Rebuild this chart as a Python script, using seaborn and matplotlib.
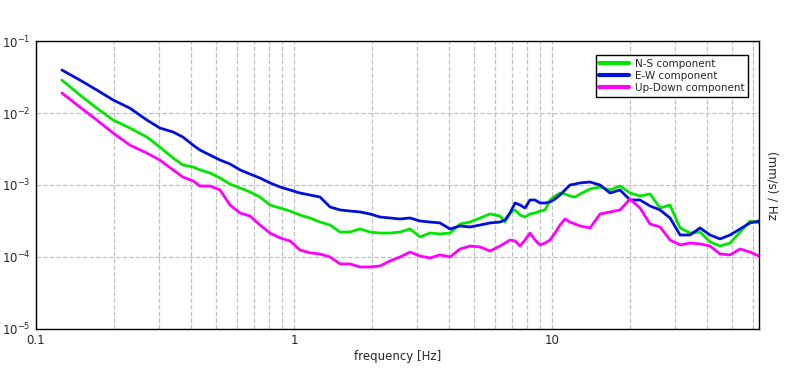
import numpy as np
import pandas as pd
import matplotlib
matplotlib.use("Agg")
import matplotlib.pyplot as plt
import seaborn as sns
from matplotlib.ticker import LogLocator, NullFormatter

# ========== DADOS ==========
freq = [0.126, 0.148, 0.172, 0.199, 0.231, 0.269, 0.302, 0.340, 0.371, 0.406,
        0.432, 0.472, 0.517, 0.565, 0.618, 0.675, 0.738, 0.807, 0.883, 0.965,
        1.055, 1.153, 1.261, 1.379, 1.508, 1.648, 1.802, 1.970, 2.154, 2.356,
        2.575, 2.816, 3.079, 3.366, 3.680, 4.024, 4.399, 4.810, 5.260, 5.750,
        6.287, 6.573, 6.874, 7.188, 7.516, 7.857, 8.216, 8.592, 8.984, 9.395,
        9.82, 10.27, 10.74, 11.23, 11.74, 12.28, 12.84, 14.04, 15.35, 16.78,
        18.35, 20.06, 21.93, 23.98, 26.22, 28.67, 31.34, 34.27, 37.46, 40.96,
        44.78, 48.97, 53.54, 58.53, 63.4]

ns_comp = [2.87e-2, 1.78e-2, 1.17e-2, 8.0e-3, 6.19e-3, 4.64e-3, 3.37e-3, 2.37e-3, 1.90e-3, 1.78e-3,
           1.62e-3, 1.47e-3, 1.25e-3, 1.03e-3, 9.09e-4, 8.0e-4, 6.81e-4, 5.27e-4, 4.79e-4, 4.35e-4,
           3.83e-4, 3.48e-4, 3.06e-4, 2.78e-4, 2.22e-4, 2.22e-4, 2.45e-4, 2.22e-4, 2.15e-4, 2.15e-4,
           2.22e-4, 2.45e-4, 1.90e-4, 2.15e-4, 2.09e-4, 2.15e-4, 2.87e-4, 3.06e-4, 3.48e-4, 3.96e-4,
           3.71e-4, 3.06e-4, 4.08e-4, 4.50e-4, 3.83e-4, 3.59e-4, 3.96e-4, 4.08e-4, 4.35e-4, 4.50e-4,
           6.19e-4, 7.03e-4, 7.74e-4, 7.50e-4, 7.03e-4, 6.81e-4, 7.50e-4, 8.80e-4, 9.38e-4, 8.53e-4,
           9.68e-4, 7.74e-4, 7.03e-4, 7.50e-4, 4.79e-4, 5.27e-4, 2.53e-4, 2.15e-4, 2.22e-4, 1.62e-4,
           1.42e-4, 1.56e-4, 2.22e-4, 3.16e-4, 2.97e-4]

ew_comp = [3.96e-2, 2.87e-2, 2.09e-2, 1.52e-2, 1.17e-2, 8.0e-3, 6.19e-3, 5.45e-3, 4.64e-3, 3.59e-3,
           3.06e-3, 2.61e-3, 2.22e-3, 1.96e-3, 1.62e-3, 1.42e-3, 1.25e-3, 1.07e-3, 9.38e-4, 8.53e-4,
           7.74e-4, 7.26e-4, 6.81e-4, 4.95e-4, 4.50e-4, 4.35e-4, 4.22e-4, 3.96e-4, 3.59e-4, 3.48e-4,
           3.37e-4, 3.48e-4, 3.16e-4, 3.06e-4, 2.97e-4, 2.45e-4, 2.70e-4, 2.61e-4, 2.78e-4, 2.97e-4,
           3.06e-4, 3.26e-4, 4.08e-4, 5.62e-4, 5.27e-4, 4.79e-4, 6.19e-4, 6.19e-4, 5.62e-4, 5.62e-4,
           5.81e-4, 6.39e-4, 7.26e-4, 8.53e-4, 1.00e-3, 1.03e-3, 1.07e-3, 1.10e-3, 1.00e-3, 7.74e-4,
           8.53e-4, 6.19e-4, 6.19e-4, 5.11e-4, 4.50e-4, 3.48e-4, 2.02e-4, 2.02e-4, 2.53e-4, 2.02e-4,
           1.78e-4, 2.02e-4, 2.45e-4, 2.97e-4, 3.16e-4]

ud_comp = [1.90e-2, 1.21e-2, 8.0e-3, 5.27e-3, 3.59e-3, 2.78e-3, 2.22e-3, 1.62e-3, 1.29e-3, 1.14e-3,
           9.68e-4, 9.68e-4, 8.53e-4, 5.27e-4, 4.08e-4, 3.71e-4, 2.78e-4, 2.15e-4, 1.84e-4, 1.67e-4,
           1.25e-4, 1.14e-4, 1.10e-4, 1.00e-4, 8.0e-5, 8.0e-5, 7.26e-5, 7.26e-5, 7.50e-5, 8.80e-5,
           1.00e-4, 1.17e-4, 1.03e-4, 9.68e-5, 1.07e-4, 1.00e-4, 1.29e-4, 1.42e-4, 1.38e-4, 1.21e-4,
           1.42e-4, 1.56e-4, 1.72e-4, 1.67e-4, 1.42e-4, 1.72e-4, 2.15e-4, 1.72e-4, 1.47e-4, 1.56e-4,
           1.72e-4, 2.15e-4, 2.78e-4, 3.37e-4, 3.06e-4, 2.87e-4, 2.70e-4, 2.53e-4, 3.96e-4, 4.22e-4,
           4.50e-4, 6.39e-4, 4.79e-4, 2.87e-4, 2.61e-4, 1.72e-4, 1.47e-4, 1.56e-4, 1.52e-4, 1.42e-4,
           1.10e-4, 1.07e-4, 1.29e-4, 1.17e-4, 1.03e-4]

nomes = ['N-S component', 'E-W component', 'Up-Down component']
cores = {'N-S component': '#00e600', 'E-W component': '#0010d8', 'Up-Down component': '#ff00ff'}

# ========== MONTAR DATAFRAME ==========
df = pd.concat([
    pd.DataFrame({'freq': freq, 'psd': ns_comp, 'comp': nomes[0]}),
    pd.DataFrame({'freq': freq, 'psd': ew_comp, 'comp': nomes[1]}),
    pd.DataFrame({'freq': freq, 'psd': ud_comp, 'comp': nomes[2]}),
], ignore_index=True)

# ========== GRÁFICO ==========
sns.set_style('white')
plt.rcParams['font.family'] = ['DejaVu Sans']

fig = plt.figure(figsize=(7.96, 3.70), dpi=100)
ax = fig.add_axes([0.0452, 0.111, 0.9083, 0.778])

sns.lineplot(data=df, x='freq', y='psd', hue='comp', hue_order=nomes,
             palette=cores, linewidth=2.0, ax=ax, sort=False)

ax.set_xscale('log')
ax.set_yscale('log')
ax.set_xlim(0.1, 63.4)
ax.set_ylim(1e-5, 1e-1)

ax.xaxis.set_minor_locator(LogLocator(base=10, subs=np.arange(2, 10)))
ax.xaxis.set_minor_formatter(NullFormatter())
ax.yaxis.set_minor_locator(LogLocator(base=10, subs=[]))

ax.grid(True, which='both', axis='x', linestyle='--', color='#c0c0c0', linewidth=0.9)
ax.grid(True, which='major', axis='y', linestyle='--', color='#c0c0c0', linewidth=0.9)

ax.tick_params(axis='both', which='major', length=0, labelsize=8.5, pad=4)
ax.tick_params(axis='x', which='minor', length=3, direction='in', color='#a0a0a0')
ax.set_xticks([0.1, 1, 10])
ax.set_xticklabels(['0.1', '1', '10'])

for s in ax.spines.values():
    s.set_color('black')
    s.set_linewidth(1.0)

ax.set_xlabel('frequency [Hz]', fontsize=8.5, labelpad=2)
ax.set_ylabel('')
fig.text(0.970, 0.5, '(mm/s) / Hz', rotation=270, ha='center', va='center', fontsize=8.5)

leg = ax.legend(loc='upper right', bbox_to_anchor=(0.985, 0.951), borderaxespad=0,
                fontsize=7.5, frameon=True, fancybox=False, edgecolor='black', framealpha=1,
                handlelength=2.8, borderpad=0.35, labelspacing=0.2, handletextpad=0.6)
leg.get_frame().set_linewidth(1.0)
for l in leg.get_lines():
    l.set_linewidth(3)

plt.savefig('out.png', dpi=100, facecolor='white')
